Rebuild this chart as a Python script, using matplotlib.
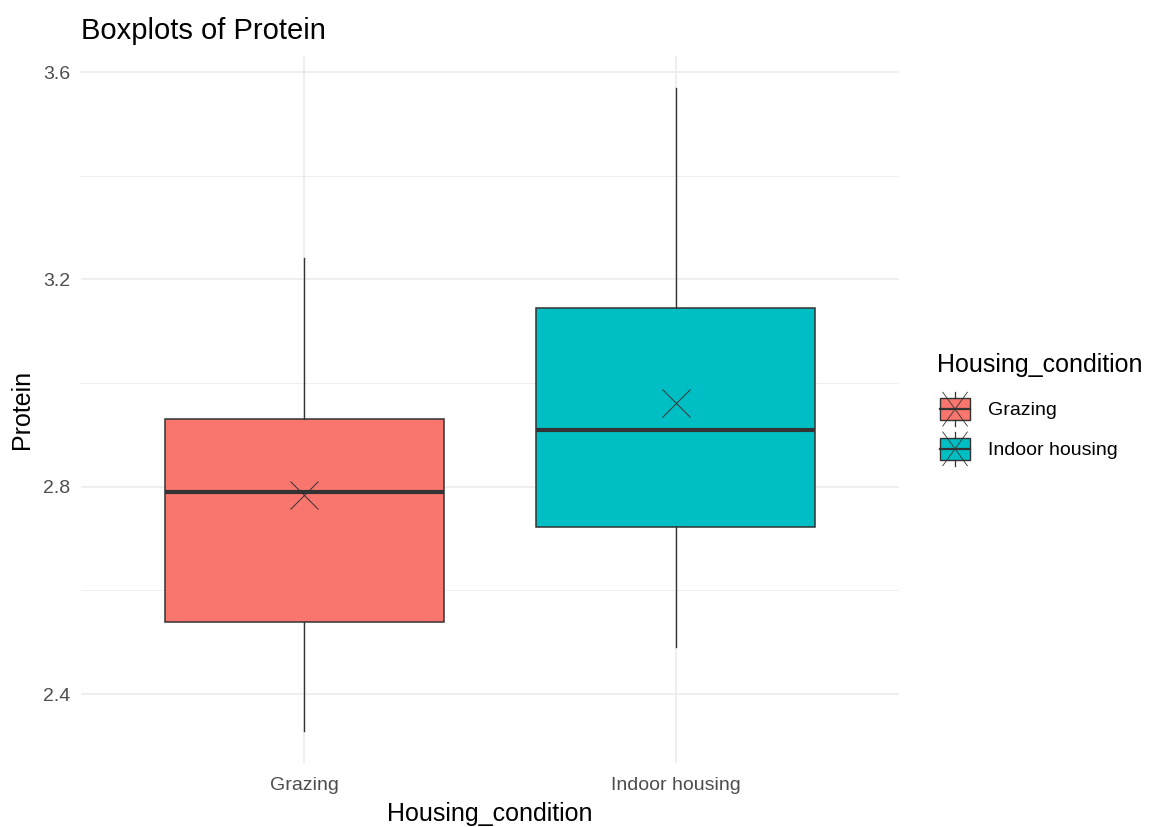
import matplotlib
matplotlib.use("Agg")
import matplotlib.pyplot as plt
from matplotlib.patches import Rectangle, Patch
from matplotlib.lines import Line2D
from matplotlib.legend_handler import HandlerBase
from matplotlib.ticker import MultipleLocator

plt.rcParams['font.family'] = ['Liberation Sans', 'DejaVu Sans']

# Protein summary statistics per housing condition
groups = ["Grazing", "Indoor housing"]
whisker_low = [2.329, 2.491]
q1 = [2.539, 2.722]
median = [2.790, 2.909]
q3 = [2.930, 3.145]
whisker_high = [3.241, 3.569]
means = [2.784, 2.961]
fills = ["#F8766D", "#00BFC4"]

EDGE = "#333333"
GRID = "#EBEBEB"


class BoxKeyHandler(HandlerBase):
    """Legend key drawn like a small boxplot with the mean cross on top."""

    def create_artists(self, legend, orig_handle, xdescent, ydescent,
                       width, height, fontsize, trans):
        x0, y0 = -xdescent, -ydescent
        cx = x0 + width / 2
        bh = height * 0.64
        by = y0 + (height - bh) / 2
        box = Rectangle((x0, by), width, bh, facecolor=orig_handle.get_facecolor(),
                        edgecolor=EDGE, linewidth=1.0, transform=trans)
        wlo = Line2D([cx, cx], [y0, by], color=EDGE, lw=0.9, transform=trans)
        whi = Line2D([cx, cx], [by + bh, y0 + height], color=EDGE, lw=0.9, transform=trans)
        med = Line2D([x0, x0 + width], [y0 + height / 2] * 2, color=EDGE, lw=1.6,
                     transform=trans)
        d1 = Line2D([x0 + 2, x0 + width - 2], [y0, y0 + height], color=EDGE, lw=0.6,
                    transform=trans)
        d2 = Line2D([x0 + 2, x0 + width - 2], [y0 + height, y0], color=EDGE, lw=0.6,
                    transform=trans)
        return [box, wlo, whi, med, d1, d2]


fig = plt.figure(figsize=(11.53, 8.27), dpi=100)
ax = fig.add_axes([81 / 1153, 1 - 763 / 827, 818 / 1153, 707 / 827])

positions = list(range(1, len(groups) + 1))
stats = []
for i, g in enumerate(groups):
    stats.append(dict(label=g, whislo=whisker_low[i], q1=q1[i], med=median[i],
                      q3=q3[i], whishi=whisker_high[i], fliers=[]))

bp = ax.bxp(stats, positions=positions, widths=0.75, patch_artist=True,
            showcaps=False, showfliers=False,
            boxprops=dict(edgecolor=EDGE, linewidth=1.1),
            whiskerprops=dict(color=EDGE, linewidth=1.0),
            medianprops=dict(color=EDGE, linewidth=3.0, solid_capstyle='butt'))
for patch, c in zip(bp['boxes'], fills):
    patch.set_facecolor(c)

ax.plot(positions, means, linestyle='none', marker='x', markersize=20,
        markeredgewidth=0.7, color=EDGE, zorder=5)

# ggplot-style expansion of the scales
lo, hi = min(whisker_low), max(whisker_high)
pad = (hi - lo) * 0.05
ax.set_ylim(lo - pad, hi + pad)
ax.set_xlim(0.4, len(groups) + 0.6)

ax.yaxis.set_major_locator(MultipleLocator(0.4))
ax.yaxis.set_minor_locator(MultipleLocator(0.2))
ax.set_yticks([2.4, 2.8, 3.2, 3.6])
ax.set_yticklabels(["2.4", "2.8", "3.2", "3.6"])
ax.set_xticks(positions)
ax.set_xticklabels(groups)

ax.grid(True, which='major', color=GRID, linewidth=1.1)
ax.grid(True, which='minor', axis='y', color=GRID, linewidth=0.6)
ax.set_axisbelow(True)
for s in ax.spines.values():
    s.set_visible(False)
ax.tick_params(axis='both', which='both', length=0, labelsize=14, labelcolor="#4D4D4D")
ax.tick_params(axis='x', pad=10)
ax.tick_params(axis='y', pad=8)

ax.set_xlabel("Housing_condition", fontsize=18, labelpad=6)
ax.set_ylabel("Protein", fontsize=18, labelpad=6)
ax.set_title("Boxplots of Protein", fontsize=21, loc='left', x=0.0, pad=12)

# legend: title placed separately so the gap above the keys can be set freely
fig.text(937 / 1153, 1 - 365 / 827, "Housing_condition", fontsize=18,
         ha='left', va='center')
handles = [Patch(facecolor=c) for c in fills]
leg = fig.legend(handles, groups, loc='center left',
                 bbox_to_anchor=(940 / 1153, 1 - 429 / 827),
                 frameon=False, fontsize=14, borderpad=0, borderaxespad=0,
                 handlelength=1.55, handleheight=2.3, handletextpad=0.9,
                 labelspacing=0.3,
                 handler_map={Patch: BoxKeyHandler()})

fig.savefig("out.png", dpi=100, facecolor="white")
